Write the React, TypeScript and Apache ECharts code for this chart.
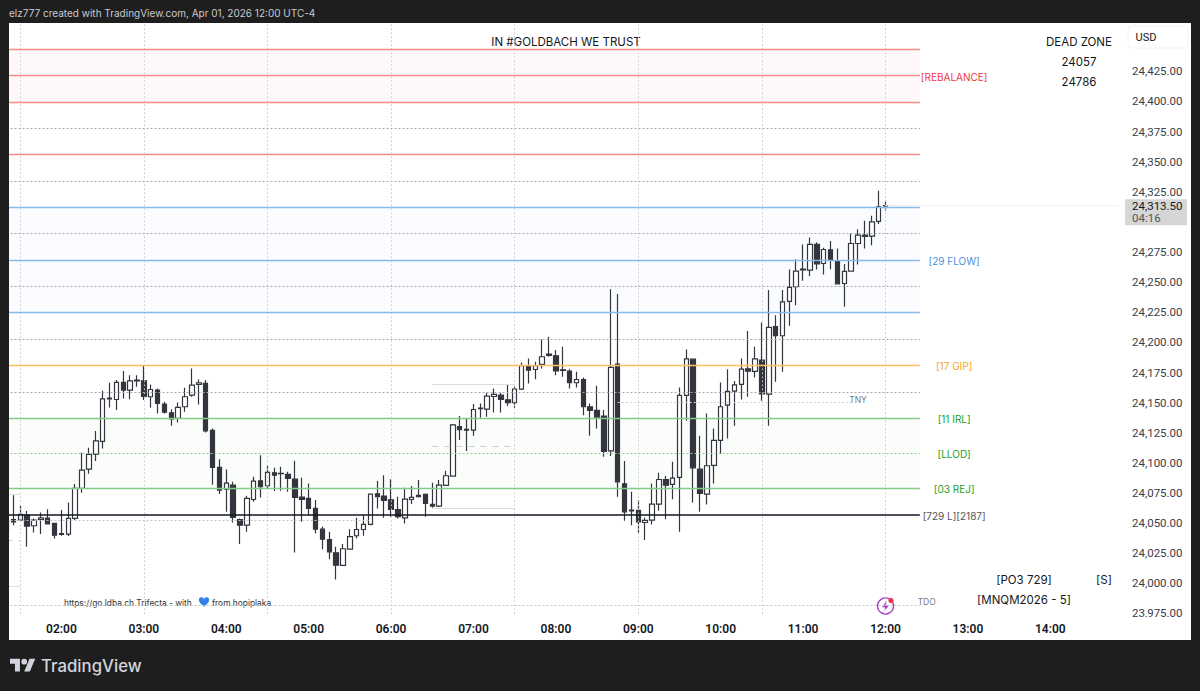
import React, { useEffect, useRef } from "react";
import * as echarts from "echarts";

const opens = [24052.5,24053,24052.5,24056.6,24047.8,24053,24054.1,24049.7,24041.2,24040.9,24053.9,24078.8,24094.8,24107.3,24117.8,24153.8,24152.6,24166.8,24160.4,24168.1,24168.1,24154.9,24160.4,24148.8,24141.6,24136.9,24146.6,24156.2,24165.1,24165.9,24126.9,24096.2,24078.2,24081.5,24053,24048.3,24069.6,24085.1,24081,24091.8,24091.4,24090.4,24086.5,24071.6,24070.5,24062.2,24045,24036.4,24025.4,24014.9,24028.4,24039.5,24044.7,24048.9,24074.3,24072.4,24069.4,24061.3,24054.4,24069.6,24073,24073.8,24065.5,24064.1,24081.3,24089,24130.2,24127.8,24127.2,24145,24144.6,24155.1,24156.2,24152.4,24149.9,24161.2,24180.6,24177.5,24181.7,24190.3,24188.9,24177.3,24176.2,24166.5,24169.2,24146.6,24143.5,24138.8,24110,24182,24082.6,24060.8,24060.5,24050.5,24052.5,24065.8,24086.2,24082.1,24087.9,24156,24186.1,24094.8,24074.1,24097.9,24118.6,24147.9,24159.6,24165.1,24178.1,24175.9,24185.3,24157.1,24213.2,24205.5,24234,24246.2,24260.8,24260,24281.3,24265.5,24276.9,24267.5,24248.9,24259.2,24282.1,24289,24288.2,24300.4,24313.2];
const closes = [24041.4,24051.1,24057.2,24047.5,24052.5,24054.4,24049.4,24040,24040.6,24053.9,24078.8,24094,24107,24118.3,24153.2,24153.2,24166.8,24160.4,24168.1,24168.6,24155.1,24160.9,24149.3,24142.1,24136.6,24146,24154.9,24164.5,24166.5,24126.6,24096.2,24077.4,24083.2,24054.7,24048.3,24070.5,24084.9,24080.2,24092.1,24089.8,24091,24087.1,24071.3,24069.6,24062.2,24045,24036.7,24026.2,24015.1,24028.7,24038.7,24044.7,24048.9,24074.1,24071.9,24068.8,24061.3,24055.3,24069.9,24071.3,24071.9,24066.3,24064.1,24081.5,24089.3,24131.6,24127.5,24127.2,24144.3,24145.4,24155.4,24156.8,24152.6,24149.9,24161.2,24180.6,24177,24180.6,24188.1,24189.2,24176.4,24176.8,24166.5,24169.2,24146.6,24143.5,24138,24109.5,24179.2,24084.3,24059.4,24060.2,24051.1,24052.2,24065.8,24086.2,24081.5,24087.3,24156,24186.4,24095.9,24074.6,24097.6,24118.6,24146.6,24159.3,24164.8,24177.8,24176.2,24186.4,24157.3,24212.4,24205.5,24233.7,24245.6,24259.2,24260.2,24281.3,24265.2,24277.1,24268,24248.6,24258.9,24282.1,24289,24287.9,24300.1,24312.6,24313.5];
const lows = [24041.4,24048.3,24051.9,24030.3,24042.2,24040.9,24048.9,24037.3,24039.5,24039.2,24052.5,24075.2,24090.9,24101.5,24112,24146,24143.8,24153.5,24152.9,24163.2,24152.1,24145.7,24141,24141,24130.8,24133.6,24142.4,24154.9,24148.5,24125.3,24081.8,24074.1,24059.4,24050.5,24032.6,24042.8,24067.7,24071.3,24078.8,24076.6,24076.8,24076,24025.6,24051.1,24056.6,24041.4,24028.4,24020.1,24003.2,24014.6,24028.1,24037.3,24039.5,24048.3,24062.2,24054.4,24055.3,24053.9,24049.7,24065.8,24071.3,24055.2,24062.7,24063.3,24081,24088.5,24118.9,24109.8,24122.5,24137.4,24138.3,24141.9,24141.9,24147.1,24145.7,24160.4,24165.9,24169.5,24178.4,24188.1,24172.8,24171.5,24161.8,24162.6,24139.6,24122.5,24128.6,24105.1,24105.6,24071.8,24051.9,24048.3,24041.4,24035.9,24048.9,24060.2,24053.3,24069.9,24042.8,24134.9,24067.1,24059.4,24065.5,24082.9,24107.3,24120.3,24130.8,24152.6,24154.9,24170.9,24151.5,24130.8,24167.3,24175.6,24213.8,24230.9,24251.1,24255,24260.5,24256.4,24260.8,24248.1,24229.6,24259.2,24264.7,24278,24280.7,24298.2,24309.2];
const highs = [24053,24073.2,24064.1,24060,24053.9,24058.8,24061.6,24050.3,24060.8,24067.1,24082.4,24108.4,24112.5,24126.4,24159.8,24166.5,24168.7,24176.2,24172.8,24172.8,24181.1,24165.1,24161.8,24150.7,24144.6,24150.2,24162.3,24178.4,24169.3,24168.7,24128.6,24103.1,24094.5,24084.3,24053.9,24072.7,24088.5,24106.4,24098.1,24095.9,24096.8,24092.6,24101.7,24087.6,24082.9,24069.1,24047,24042.8,24030.4,24032.6,24045,24054.4,24056.6,24074.6,24084.9,24089.8,24086.5,24071.9,24079.3,24080.7,24085.7,24074.6,24083.5,24085.7,24093.4,24132.2,24138.8,24136.9,24148.8,24149.3,24158.2,24161.8,24158.2,24165.4,24163.2,24183.4,24186.7,24183.9,24202.5,24204.7,24193.6,24196.4,24177.8,24175.6,24170.9,24149.3,24164,24143.8,24244.2,24240.1,24101.5,24076,24069.1,24054.7,24082.9,24091.8,24089,24100.9,24162.6,24194.1,24186.1,24122.5,24141,24128.6,24166.8,24177.8,24167.9,24186.7,24209.4,24196.4,24216.5,24243.4,24222.6,24243.4,24260.5,24269.1,24281.3,24287.1,24283.2,24278.5,24284.1,24278,24265,24290.4,24294,24300.9,24305.1,24325.8,24317.5];

const priceTicks = [24425,24400,24375,24350,24325,24275,24250,24225,24200,24175,24150,24125,24100,24075,24050,24025,24000,23975];
const hourLabels = ["02:00","03:00","04:00","05:00","06:00","07:00","08:00","09:00","10:00","11:00","12:00","13:00","14:00"];
const verticalTimes = ["01:30","03:00","04:30","06:00","07:30","09:00","10:30","12:00"];

const redLevels = [24443.4, 24421.5, 24399.6, 24355.9];
const blueLevels = [24312.2, 24268.4, 24224.7];
const orangeLevels = [24180.9];
const greenLevels = [24137.2, 24078.9];
const blackLevels = [24057];
const dottedLevels = [24465.2, 24377.8, 24334, 24290.3, 24246.5, 24202.8, 24159];
const lloqLevel = 24108;

const bands = [
  { from: 24443.4, to: 24399.6, color: "#fff8f8" },
  { from: 24312.2, to: 24224.7, color: "#fafcff" },
  { from: 24137.2, to: 24078.9, color: "#fafdfa" },
];

const levelNames = ["[REBALANCE]", "[29 FLOW]", "[17 GIP]", "[11 IRL]", "[LLOD]", "[03 REJ]", "[729 L][2187]"];
const levelPrices = [24421.5, 24268.4, 24180.9, 24137.2, 24108, 24078.9, 24057];
const levelColors = ["#f23645", "#4f8fdc", "#f5a623", "#1e9e1e", "#1e9e1e", "#1e9e1e", "#555555"];

const currentPrice = 24313.5;
const countdown = "04:16";

function pad(n: number) { return String(n).padStart(2, "0"); }
const categories: string[] = [];
for (let m = 80; m < 80 + 163 * 5; m += 5) categories.push(pad(Math.floor(m / 60)) + ":" + pad(m % 60));

const endCat = categories[133];
const firstCat = categories[0];

function hLine(y: number, from: string, to: string, lineStyle: any) {
  return [{ coord: [from, y], lineStyle }, { coord: [to, y] }];
}

const LOGO = "M14 22H7V11H0V4h14v18zM28 22h-8l7.5-18h8L28 22zM24 8a4 4 0 1 1-8 0 4 4 0 0 1 8 0z";
const HEART = "M12 21C5 15 1 11.5 1 7a5.5 5.5 0 0 1 11-1.5A5.5 5.5 0 0 1 23 7c0 4.5-4 8-11 14z";
const BOLT = "M13 2L4 14h6l-1 8 9-12h-6l1-8z";
echarts.graphic.registerShape("tvlogo", echarts.graphic.extendPath(LOGO as any, {}) as any);
echarts.graphic.registerShape("heart", echarts.graphic.extendPath(HEART as any, {}) as any);
echarts.graphic.registerShape("bolt", echarts.graphic.extendPath(BOLT as any, {}) as any);

const FONT = "Roboto";
const DARK = "#1e1e1e";

function txt(text: string, x: number, y: number, size: number, fill: string, align = "center", weight: any = 400, family = "Inter") {
  return { type: "text", x, y, z2: 60, silent: true, style: { text, fontSize: size, fill, align, verticalAlign: "middle", fontFamily: family, fontWeight: weight } };
}

export default function App() {
  const ref = useRef<HTMLDivElement>(null);
  useEffect(() => {
    const chart = echarts.init(ref.current!, undefined, { renderer: "svg" });

    const lines: any[] = [];
    const st = (color: string, width: number = 1.3, type: any = "solid") => ({ color, width, type, opacity: 1 });
    const DOT = [2, 2];
    const FINE = [1.5, 2.5];
    dottedLevels.forEach((v) => lines.push(hLine(v, firstCat, endCat, st("#a6a6a6", 1, DOT))));
    lines.push(hLine(lloqLevel, firstCat, endCat, st("#8fcf92", 1, DOT)));
    lines.push(hLine(24052.6, firstCat, categories[53], st("#c4c4c4", 1, DOT)));
    lines.push(hLine(24150.5, categories[89], categories[123], st("#d0d0d0", 1, DOT)));
    lines.push(hLine(23982, firstCat, endCat, st("#c4c4c4", 1, DOT)));
    lines.push(hLine(24165.4, categories[62], categories[74], st("#dddddd", 1)));
    lines.push(hLine(24114.2, categories[62], categories[74], st("#cccccc", 1, [6, 6])));
    lines.push(hLine(24062.7, categories[62], categories[74], st("#dddddd", 1)));
    lines.push(hLine(24074.1, firstCat, categories[2], st("#dddddd", 1)));
    lines.push(hLine(24036, firstCat, categories[2], st("#cccccc", 1, [6, 6])));
    lines.push(hLine(23997.8, firstCat, categories[2], st("#dddddd", 1)));
    lines.push(hLine(currentPrice, categories[128], categories[162], st("#e2e2e2", 1, DOT)));
    verticalTimes.forEach((t) => lines.push([{ coord: [t, 23974.5], lineStyle: st("#c8c8c8", 1, FINE) }, { coord: [t, 24465] }]));
    redLevels.forEach((v) => lines.push(hLine(v, firstCat, endCat, st("#f88a8a"))));
    blueLevels.forEach((v) => lines.push(hLine(v, firstCat, endCat, st("#8bb9ee"))));
    orangeLevels.forEach((v) => lines.push(hLine(v, firstCat, endCat, st("#ffbd66"))));
    greenLevels.forEach((v) => lines.push(hLine(v, firstCat, endCat, st("#84c988"))));
    const blackLines = blackLevels.map((v) => hLine(v, firstCat, endCat, st("#131722", 1.6)));

    const labelData = levelNames.map((n, i) => ({
      value: [categories[138], levelPrices[i]],
      name: n,
      label: { color: levelColors[i] },
    }));

    const option: any = {
      animation: false,
      backgroundColor: "#ffffff",
      grid: { left: 3.1, width: 1119.3, top: 23, height: 593, containLabel: false },
      xAxis: {
        type: "category",
        data: categories,
        boundaryGap: true,
        axisLine: { show: false },
        axisTick: { show: false },
        splitLine: { show: false },
        axisLabel: {
          interval: (_: number, v: string) => hourLabels.includes(v),
          color: "#131722",
          fontFamily: FONT,
          fontSize: 12,
          fontWeight: 600,
          margin: 7,
          hideOverlap: false,
        },
      },
      yAxis: {
        type: "value",
        position: "right",
        min: 23972.9,
        max: 24465.1,
        axisLine: { show: false },
        axisTick: { show: false },
        splitLine: { show: false },
        axisLabel: {
          customValues: priceTicks,
          color: "#3a3d47",
          fontFamily: FONT,
          fontSize: 11.5,
          margin: 9.6,
          align: "left",
          formatter: (v: number) => v.toLocaleString("en-US", { minimumFractionDigits: 2, maximumFractionDigits: 2 }),
        },
      },
      series: [
        {
          type: "line",
          data: [],
          z: 1,
          silent: true,
          markArea: {
            silent: true,
            data: bands.map((b) => [
              { coord: [firstCat, b.from], itemStyle: { color: b.color, opacity: 1 } },
              { coord: [endCat, b.to] },
            ]),
          },
          markLine: { silent: true, symbol: "none", label: { show: false }, data: lines, animation: false },
        },
        {
          type: "candlestick",
          z: 3,
          barWidth: 5,
          silent: true,
          data: opens.map((o, i) => [o, closes[i], lows[i], highs[i]]),
          itemStyle: { color: "#ffffff", color0: "#33363e", borderColor: "#33363e", borderColor0: "#33363e", borderWidth: 1.2 },
        },
        {
          type: "line",
          data: [],
          z: 4,
          silent: true,
          markLine: { silent: true, symbol: "none", label: { show: false }, data: blackLines, animation: false },
        },
        {
          type: "scatter",
          z: 5,
          symbolSize: 0,
          silent: true,
          itemStyle: { opacity: 1 },
          data: labelData,
          label: { show: true, position: "inside", formatter: "{b}", fontFamily: "Inter", fontSize: 10, offset: [0, 1], opacity: 1 },
        },
        {
          type: "scatter",
          z: 5,
          symbolSize: 0,
          silent: true,
          itemStyle: { opacity: 1 },
          data: [
            { value: [categories[124], 24152], name: "TNY" },
            { value: [categories[134], 23984.8], name: "TDO" },
          ],
          label: { show: true, position: "inside", formatter: "{b}", fontFamily: "Inter", fontSize: 8.5, color: "#787b86" },
        },
      ],
      graphic: {
        elements: [
          { type: "rect", z2: 1, silent: true, shape: { x: 0, y: 0, width: 1200, height: 23 }, style: { fill: DARK } },
          { type: "rect", z2: 1, silent: true, shape: { x: 0, y: 640, width: 1200, height: 51 }, style: { fill: DARK } },
          { type: "rect", z2: 1, silent: true, shape: { x: 1191, y: 0, width: 9, height: 691 }, style: { fill: DARK } },
          { type: "rect", z2: 2, silent: true, shape: { x: 1125, y: 199.3, width: 62, height: 26 }, style: { fill: "#d6d6d6" } },
          { type: "rect", z2: 2, silent: true, shape: { x: 1128, y: 26, width: 60, height: 22, r: 4 }, style: { fill: "#ffffff", stroke: "#f0f3fa", lineWidth: 1 } },
          txt("USD", 1135.5, 37, 11, "#131722", "left", 400, FONT),
          txt(currentPrice.toLocaleString("en-US", { minimumFractionDigits: 2 }), 1132, 205.8, 11.5, "#131722", "left", 400, FONT),
          txt(countdown, 1132, 217.5, 11.5, "#555555", "left", 400, FONT),
          txt("elz777 created with TradingView.com, Apr 01, 2026 12:00 UTC-4", 9, 13, 10, "#c8cad0", "left"),
          txt("IN #GOLDBACH WE TRUST", 566, 41.5, 11.5, "#131722"),
          txt("DEAD ZONE", 1079, 41.5, 11.5, "#131722"),
          txt("24057", 1079, 61.5, 11.5, "#131722"),
          txt("24786", 1079, 81.5, 11.5, "#131722"),
          txt("[PO3 729]", 1024, 580, 11.5, "#131722"),
          txt("[S]", 1104, 580, 11.5, "#131722"),
          txt("[MNQM2026 - 5]", 1024, 600, 11.5, "#131722"),
          txt("https://go.ldba.ch Trifecta - with", 64, 602.5, 8.4, "#333333", "left"),
          { type: "heart", z2: 60, silent: true, x: 198.5, y: 597, scaleX: 0.46, scaleY: 0.46, style: { fill: "#2f80ed" } },
          txt("from hopiplaka", 212, 602.5, 8.4, "#333333", "left"),
          { type: "circle", z2: 60, silent: true, shape: { cx: 885.5, cy: 606, r: 8 }, style: { fill: "#ffffff", stroke: "#a43bc4", lineWidth: 1.4 } },
          { type: "bolt", z2: 61, silent: true, x: 880, y: 600.3, scaleX: 0.5, scaleY: 0.5, style: { fill: "#a43bc4" } },
          { type: "circle", z2: 62, silent: true, shape: { cx: 891, cy: 600.5, r: 2.6 }, style: { fill: "#f23645" } },
          { type: "tvlogo", z2: 60, silent: true, x: 10, y: 656, scaleX: 0.71, scaleY: 0.71, style: { fill: "#d1d4dc" } },
          txt("TradingView", 41, 666, 16.8, "#d1d4dc", "left", 500),
        ],
      },
    };
    chart.setOption(option);
    return () => chart.dispose();
  }, []);
  return (
    <div style={{ position: "fixed", left: 0, top: 0, width: 1200, height: 691 }}>
      <div ref={ref} style={{ position: "absolute", left: 0, top: 0, width: 1200, height: 691 }} />
      <div style={{ position: "absolute", left: 0, top: 0, width: 9, height: 691, background: DARK }} />
      <div style={{ position: "absolute", left: 1125, top: 616.6, width: 66, height: 23.4, background: "#ffffff" }} />
    </div>
  );
}
